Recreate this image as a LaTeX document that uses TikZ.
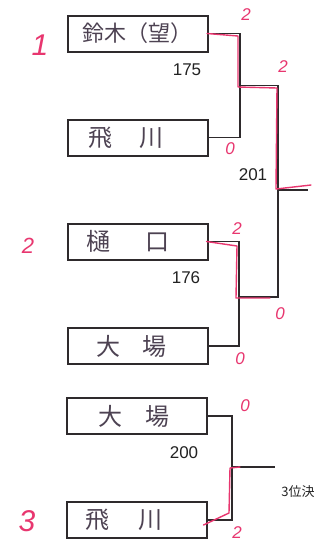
\documentclass[tikz,border=0pt]{standalone}
\usepackage{fontspec}
\setmainfont{Liberation Sans}
\newfontfamily\jp{Noto Sans CJK JP}
\definecolor{boxc}{HTML}{2E2A2C}
\definecolor{linec}{HTML}{2E2A2C}
\definecolor{ink}{HTML}{4D4252}
\definecolor{redc}{HTML}{E8366F}
\definecolor{numc}{HTML}{222222}
\begin{document}
\begin{tikzpicture}[x=1pt,y=-1pt,
  box/.style={draw=boxc, line width=2pt, minimum width=140pt, minimum height=36pt, inner sep=0pt, text=ink, font=\jp\fontsize{24}{24}\selectfont},
  conn/.style={draw=linec, line width=1.4pt, line join=miter},
  redl/.style={draw=redc, line width=1.4pt, line join=round, line cap=round},
  score/.style={text=redc, inner sep=0pt, font=\fontsize{17}{17}\selectfont\itshape},
  rank/.style={text=redc, inner sep=0pt, font=\fontsize{30}{30}\selectfont\itshape},
  num/.style={text=numc, inner sep=0pt, font=\fontsize{17}{17}\selectfont}]
\useasboundingbox (0,0) rectangle (330,547);
\fill[white] (0,0) rectangle (330,547);

% boxes
\node[box] (b1) at (138,33.5) {\makebox[140pt][l]{\hspace{14pt}{\fontsize{22}{22}\selectfont 鈴木（望）}}};
\node[box] (b2) at (138,137.5) {\makebox[140pt][l]{\hspace{20pt}飛\hspace{28pt}川}};
\node[box] (b3) at (137.5,241.5) {\makebox[140pt][l]{\hspace{19pt}樋\hspace{35pt}口}};
\node[box] (b4) at (137.5,346) {\makebox[140pt][l]{\hspace{29pt}大\hspace{22pt}場}};
\node[box] (b5) at (136.5,416) {\makebox[140pt][l]{\hspace{32pt}大\hspace{23pt}場}};
\node[box] (b6) at (136.5,520) {\makebox[140pt][l]{\hspace{19pt}飛\hspace{29pt}川}};

% coordinates
\coordinate (t1) at (240,33.5);
\coordinate (t2) at (240,137.5);
\coordinate (m1) at (240,85.5);
\coordinate (t3) at (239,241.5);
\coordinate (t4) at (239,346);
\coordinate (m2) at (239,297);
\coordinate (f1) at (278,85.5);
\coordinate (f2) at (278,297);
\coordinate (fm) at (278,190);
\coordinate (fo) at (308,190);
\coordinate (t5) at (232,416);
\coordinate (t6) at (232,520);
\coordinate (m3) at (232,467);
\coordinate (o3) at (275,467);

% black connectors
\draw[conn] (b1.east) -- (t1) -- (t2) -- (b2.east);
\draw[conn] (b3.east) -- (t3) -- (t4) -- (b4.east);
\draw[conn] (m1) -- (f1) -- (f2) -- (m2);
\draw[conn] (fm) -- (fo);
\draw[conn] (b5.east) -- (t5) -- (t6) -- (b6.east);
\draw[conn] (m3) -- (o3);

% red winner lines
\draw[redl] ([xshift=-2pt]b1.east) -- (238,36) -- (238,87) -- (277,88) -- (276,189) -- (311,185);
\draw[redl] ([xshift=-2pt]b3.east) -- (237,246) -- (236,298) -- (270,298);
\draw[redl] ([xshift=-4pt,yshift=-5pt]b6.east) -- (229,513) -- (230,468) -- (240,467);

% numbers
\node[num] (n175) at (187,70) {175};
\node[num] (n201) at (253,175) {201};
\node[num] (n176) at (186,278) {176};
\node[num] (n200) at (184,453) {200};
\node[text=numc, inner sep=0pt, font=\jp\fontsize{13}{13}\selectfont] (third) at (298,492) {3位決};

% red ranks
\node[rank] (r1) at (40,45) {1};
\node[rank, font=\fontsize{22}{22}\selectfont\itshape] (r2) at (28,246) {2};
\node[rank] (r3) at (27,521) {3};

% red scores
\node[score] (s1) at (246,15) {2};
\node[score] (s2) at (283,67) {2};
\node[score] (s3) at (230,149) {0};
\node[score] (s4) at (237,229) {2};
\node[score] (s5) at (280,314) {0};
\node[score] (s6) at (240,359) {0};
\node[score] (s7) at (245,406) {0};
\node[score] (s8) at (237,533) {2};
\end{tikzpicture}
\end{document}
